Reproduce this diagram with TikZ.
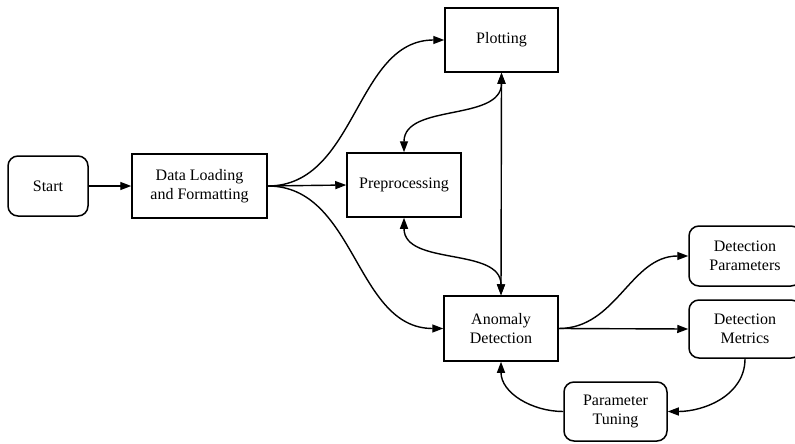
\documentclass[tikz,border=0pt]{standalone}
\usepackage{fontspec}
\setmainfont{Liberation Serif}
\usetikzlibrary{arrows.meta}
\begin{document}
\begin{tikzpicture}[x=1pt,y=-1pt,
  base/.style={draw, line width=1.5pt, align=center, inner sep=0pt,
    font=\fontsize{16}{19}\selectfont},
  sq/.style={base},
  rnd/.style={base, rounded corners=10pt},
  conn/.style={line width=1.4pt, -{Triangle[length=11pt,width=8pt]}},
  bconn/.style={line width=1.4pt, {Triangle[length=11pt,width=8pt]}-{Triangle[length=11pt,width=8pt]}}
]
\useasboundingbox (0,0) rectangle (795,444);
\clip (0,0) rectangle (795,444);
\node[rnd, minimum width=80pt, minimum height=60pt] (start) at (48,186) {Start};
\node[sq, minimum width=135pt, minimum height=64pt] (load) at (199.5,186) {Data Loading\\and Formatting};
\node[sq, minimum width=113pt, minimum height=64pt] (plot) at (501.5,40) {Plotting};
\node[sq, minimum width=114pt, minimum height=64pt] (pre) at (404,185) {Preprocessing};
\node[sq, minimum width=114pt, minimum height=65pt] (anom) at (501,328.5) {Anomaly\\Detection};
\node[rnd, minimum width=112pt, minimum height=60pt] (dpar) at (745,256) {Detection\\Parameters};
\node[rnd, minimum width=112pt, minimum height=58pt] (dmet) at (745,329) {Detection\\Metrics};
\node[rnd, minimum width=103pt, minimum height=59pt] (tune) at (615.5,411.5) {Parameter\\Tuning};

\draw[conn] (start) -- (load);
\draw[conn] (load.east) to[out=0,in=180] (plot.west);
\draw[conn] (load.east) -- (pre.west);
\draw[conn] (load.east) to[out=0,in=180] (anom.west);
\draw[bconn] (pre.north) to[out=90,in=-90] (plot.south);
\draw[bconn] (pre.south) to[out=-90,in=90] (anom.north);
\draw[bconn] (plot.south) -- (anom.north);
\draw[conn] (anom.east) to[out=0,in=180] (dpar.west);
\draw[conn] (anom.east) -- (dmet.west);
\draw[conn] (dmet.south) to[out=-90,in=0] (tune.east);
\draw[conn] (tune.west) to[out=180,in=-90] (anom.south);
\end{tikzpicture}
\end{document}
